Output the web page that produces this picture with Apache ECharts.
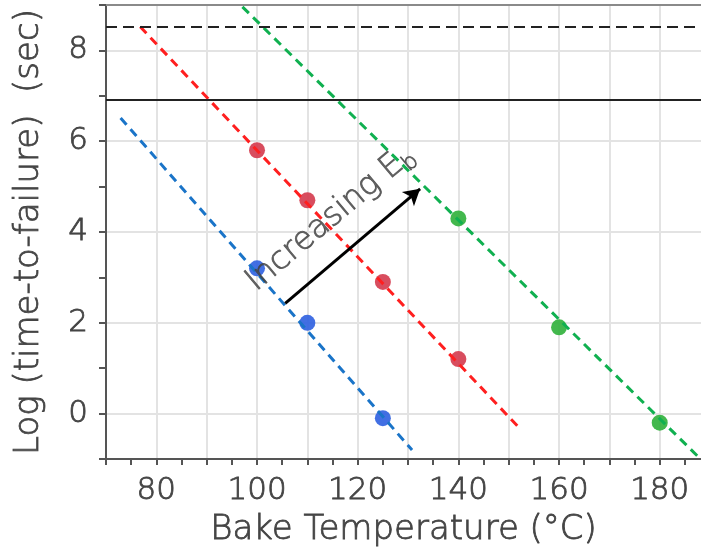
<!DOCTYPE html>
<html>
<head>
<meta charset="utf-8">
<script src="https://cdn.jsdelivr.net/npm/echarts@6/dist/echarts.min.js"></script>
<style>html,body{margin:0;padding:0;background:#fff}#c{width:701px;height:554px}</style>
</head>
<body>
<div id="c"></div>
<script>
// ---- data ----
const redX = [100, 110, 125, 140];
const redY = [5.8, 4.7, 2.9, 1.2];
const blueX = [100, 110, 125];
const blueY = [3.2, 2.0, -0.1];
const greenX = [140, 160, 180];
const greenY = [4.3, 1.9, -0.2];
// dashed fit lines (start, end)
const redFit = [[76.8, 8.52], [152.3, -0.34]];
const blueFit = [[72.9, 6.51], [130.8, -0.80]];
const greenFit = [[97.1, 8.96], [188.1, -1.0]];
// reference horizontal lines
const dashedLevel = 8.52;
const solidLevel = 6.91;
// arrow annotation
const arrowStart = [105.6, 2.43];
const arrowEnd = [132.4, 4.95];
const annotPos = [114.6, 4.3];
const xTickLabels = [80, 100, 120, 140, 160, 180];
const yTickLabels = [0, 2, 4, 6, 8];

const FONT = 'DejaVu Sans';
const TXT = '#444';
const thin = {fontFamily: FONT, color: TXT, fontWeight: 200, textBorderColor: TXT, textBorderWidth: 0.8};
const zip = (a, b) => a.map((v, i) => [v, b[i]]);

const chart = echarts.init(document.getElementById('c'), null, {renderer: 'canvas'});
chart.setOption({
  animation: false,
  backgroundColor: '#fff',
  grid: {left: 106, top: 5, right: 0, bottom: 95, containLabel: false},
  xAxis: [{
    type: 'value', min: 70, max: 188.2, interval: 5, position: 'bottom',
    name: 'Bake Temperature (°C)', nameLocation: 'middle', nameGap: 54,
    nameTextStyle: Object.assign({fontSize: 34}, thin),
    axisLine: {show: true, onZero: false, lineStyle: {color: '#555', width: 2}},
    axisTick: {show: true, length: 6, lineStyle: {color: '#555', width: 2}},
    splitLine: {show: true, showMaxLine: false, lineStyle: {color: ['#e3e3e3', 'transparent'], width: 2}},
    axisLabel: Object.assign({fontSize: 31, margin: 16, showMaxLabel: false,
      formatter: v => xTickLabels.includes(v) ? String(v) : ''}, thin)
  }, {
    type: 'value', min: 70, max: 188.2, position: 'top',
    axisLine: {show: true, onZero: false, lineStyle: {color: '#8a8a8a', width: 2}},
    axisTick: {show: false}, axisLabel: {show: false}, splitLine: {show: false}
  }],
  yAxis: [{
    type: 'value', min: -1, max: 9, interval: 1,
    name: 'Log (time-to-failure)  (sec)', nameLocation: 'middle', nameGap: 60,
    nameTextStyle: Object.assign({fontSize: 34}, thin),
    axisLine: {show: true, onZero: false, lineStyle: {color: '#555', width: 2}},
    axisTick: {show: true, length: 7, lineStyle: {color: '#555', width: 2}},
    splitLine: {show: true, lineStyle: {color: ['transparent', '#e3e3e3'], width: 2}},
    axisLabel: Object.assign({fontSize: 31, margin: 18,
      formatter: v => yTickLabels.includes(v) ? String(v) : ''}, thin)
  }],
  series: [
    {type: 'scatter', data: zip(redX, redY), symbolSize: 16, z: 2,
     itemStyle: {color: '#d43a4c', opacity: 0.9}},
    {type: 'scatter', data: zip(blueX, blueY), symbolSize: 16, z: 2,
     itemStyle: {color: '#2e5fe0', opacity: 0.9}},
    {type: 'scatter', data: zip(greenX, greenY), symbolSize: 16, z: 2,
     itemStyle: {color: '#2fb03a', opacity: 0.9}},
    {type: 'line', data: redFit, symbol: 'none', z: 3, silent: true,
     lineStyle: {color: '#ff1f1f', width: 3, type: [9, 6]}},
    {type: 'line', data: blueFit, symbol: 'none', z: 3, silent: true,
     lineStyle: {color: '#1a74c8', width: 3, type: [9, 6]}},
    {type: 'line', data: greenFit, symbol: 'none', z: 3, silent: true,
     lineStyle: {color: '#10b050', width: 3, type: [9, 6]}},
    {type: 'line', data: [], symbol: 'none', z: 4,
     markLine: {
       silent: true, symbol: ['none', 'none'], label: {show: false},
       data: [
         {yAxis: dashedLevel, lineStyle: {color: '#222', width: 2, type: [11, 6]}},
         {yAxis: solidLevel, lineStyle: {color: '#222', width: 2, type: 'solid'}}
       ]
     }},
    {type: 'line', data: [], symbol: 'none', z: 5,
     markLine: {
       silent: true, symbol: ['none', 'arrow'], symbolSize: [14, 16], label: {show: false},
       lineStyle: {color: '#000', width: 3, type: 'solid'},
       data: [[{coord: arrowStart}, {coord: arrowEnd}]]
     }},
    {type: 'scatter', data: [annotPos], symbolSize: 1, z: 6, silent: true,
     itemStyle: {color: 'rgba(0,0,0,0)'},
     label: {show: true, position: 'inside', rotate: 40,
       formatter: '{a|Increasing E}{b|b}',
       rich: {
         a: Object.assign({fontSize: 32, lineHeight: 40}, thin),
         b: Object.assign({fontSize: 22, lineHeight: 22, verticalAlign: 'bottom'}, thin)
       }}}
  ]
});
</script>
</body>
</html>
